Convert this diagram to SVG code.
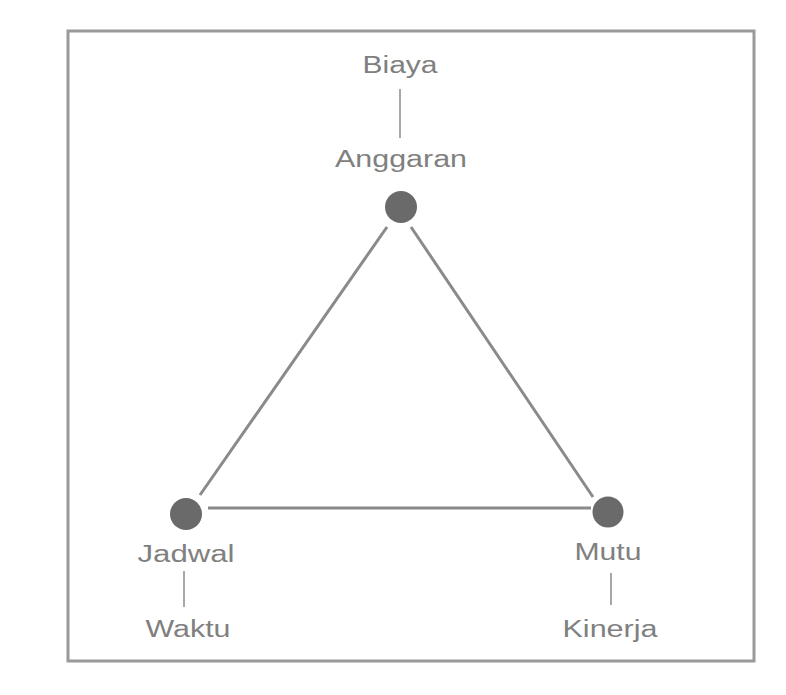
<svg xmlns="http://www.w3.org/2000/svg" width="786" height="695" viewBox="0 0 786 695">
<style>
.t{font-family:"Liberation Sans",Arial,sans-serif;font-size:23px;fill:#808080;text-anchor:middle}
.e{stroke:#8a8a8a;stroke-width:3;fill:none}
.tick{stroke:#8a8a8a;stroke-width:1.5}
.dot{fill:#6a6a6a}
</style>
<rect width="786" height="695" fill="#ffffff"/>
<rect x="68" y="31" width="686" height="630" fill="#ffffff" stroke="#9a9a9a" stroke-width="3"/>
<g id="connectors">
<line class="e" x1="387" y1="227" x2="200" y2="495"/>
<line class="e" x1="411" y1="227" x2="593" y2="497"/>
<line class="e" x1="208" y1="508" x2="591" y2="508"/>
</g>
<g id="anggaran">
<text class="t" x="400" y="73" textLength="75" lengthAdjust="spacingAndGlyphs">Biaya</text>
<line class="tick" x1="400" y1="89" x2="400" y2="138"/>
<text class="t" x="401" y="167" textLength="132" lengthAdjust="spacingAndGlyphs">Anggaran</text>
<circle class="dot" cx="401" cy="207" r="16"/>
</g>
<g id="jadwal">
<circle class="dot" cx="186" cy="514" r="16"/>
<text class="t" x="186" y="562" textLength="97" lengthAdjust="spacingAndGlyphs">Jadwal</text>
<line class="tick" x1="184" y1="571" x2="184" y2="607"/>
<text class="t" x="188" y="637" textLength="85" lengthAdjust="spacingAndGlyphs">Waktu</text>
</g>
<g id="mutu">
<circle class="dot" cx="608" cy="512" r="15.5"/>
<text class="t" x="608" y="560" textLength="67" lengthAdjust="spacingAndGlyphs">Mutu</text>
<line class="tick" x1="611" y1="573" x2="611" y2="605"/>
<text class="t" x="610" y="637" textLength="95" lengthAdjust="spacingAndGlyphs">Kinerja</text>
</g>
</svg>
